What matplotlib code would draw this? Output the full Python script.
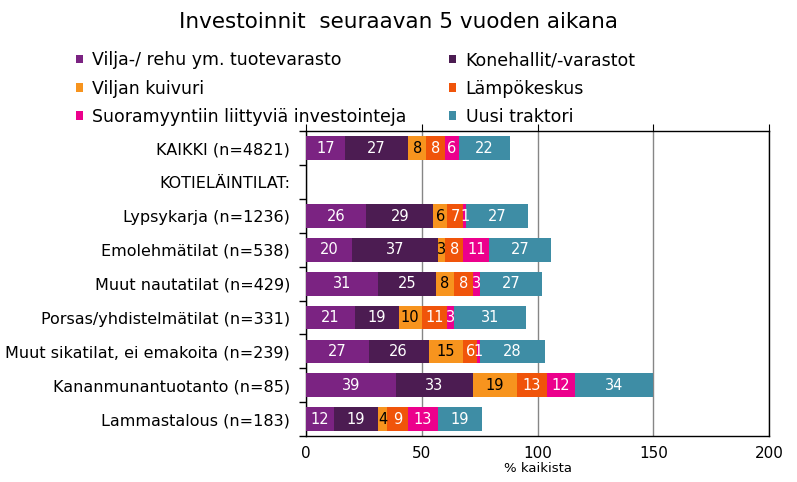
import numpy as np
import matplotlib.pyplot as plt
from matplotlib.ticker import MultipleLocator

categories = ['KAIKKI (n=4821)', 'KOTIELÄINTILAT:', 'Lypsykarja (n=1236)',
              'Emolehmätilat (n=538)', 'Muut nautatilat (n=429)',
              'Porsas/yhdistelmätilat (n=331)', 'Muut sikatilat, ei emakoita (n=239)',
              'Kananmunantuotanto (n=85)', 'Lammastalous (n=183)']

series_names = ['Vilja-/ rehu ym. tuotevarasto', 'Konehallit/-varastot',
                'Viljan kuivuri', 'Lämpökeskus',
                'Suoramyyntiin liittyviä investointeja', 'Uusi traktori']

# None = no bar (heading row)
vilja = [17, None, 26, 20, 31, 21, 27, 39, 12]
konehallit = [27, None, 29, 37, 25, 19, 26, 33, 19]
kuivuri = [8, None, 6, 3, 8, 10, 15, 19, 4]
lampokeskus = [8, None, 7, 8, 8, 11, 6, 13, 9]
suoramyynti = [6, None, 1, 11, 3, 3, 1, 12, 13]
traktori = [22, None, 27, 27, 27, 31, 28, 34, 19]

colors = ['#7B2382', '#4C1C52', '#F7941E', '#F0540A', '#EC008C', '#3E8DA5']
text_colors = ['white', 'white', 'black', 'white', 'white', 'white']

data = [vilja, konehallit, kuivuri, lampokeskus, suoramyynti, traktori]

fig = plt.figure(figsize=(7.97, 4.82), dpi=100)
ax = fig.add_axes([0.384, 0.0954, 0.581, 0.632])

y = np.arange(len(categories))
left = np.zeros(len(categories))
handles = []
for vals, name, col, tc in zip(data, series_names, colors, text_colors):
    v = np.array([0 if x is None else x for x in vals], dtype=float)
    bars = ax.barh(y, v, left=left, height=0.7, color=col, label=name, zorder=3)
    handles.append(bars)
    for i, val in enumerate(vals):
        if val is None:
            continue
        ax.text(left[i] + val / 2, y[i], str(val), ha='center', va='center',
                color=tc, fontsize=10.5, zorder=4)
    left += v

ax.set_xlim(0, 200)
ax.set_ylim(len(categories) - 0.5, -0.5)
ax.xaxis.set_major_locator(MultipleLocator(50))
ax.grid(axis='x', color='#868686', linewidth=1, zorder=0)
ax.set_yticks(y)
ax.set_yticklabels(categories, fontsize=11.5)
ax.set_yticks(np.arange(len(categories) + 1) - 0.5, minor=True)
ax.tick_params(axis='y', which='major', length=0, pad=11.5)
ax.tick_params(axis='y', which='minor', length=5, direction='out', width=1)
ax.tick_params(axis='x', which='major', bottom=False, top=True, length=5,
               labelsize=11, pad=2, color='black')
for s in ax.spines.values():
    s.set_color('black')
    s.set_linewidth(1)
ax.set_xlabel('% kaikista', fontsize=9.5, labelpad=1)

fig.suptitle('Investoinnit  seuraavan 5 vuoden aikana', fontsize=15.5, y=0.975)

order = [0, 2, 4, 1, 3, 5]
fig.legend([handles[i] for i in order], [series_names[i] for i in order],
           ncol=2, loc='upper left', bbox_to_anchor=(0.095, 0.894),
           frameon=False, fontsize=12.5, handlelength=0.4, handleheight=0.4,
           handletextpad=0.55, columnspacing=2.45, labelspacing=0.6,
           borderaxespad=0, borderpad=0)

fig.savefig('out.png', dpi=100)
